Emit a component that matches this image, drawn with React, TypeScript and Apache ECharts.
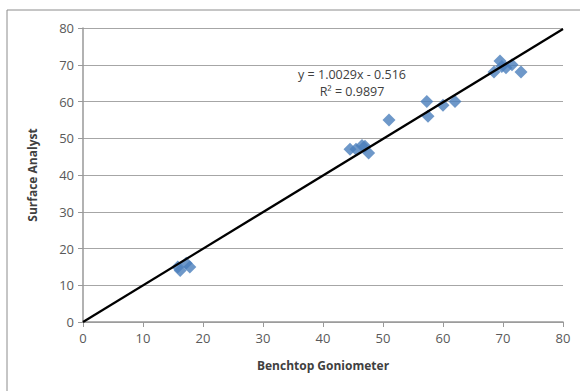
import React, { useEffect, useRef } from "react";
import * as echarts from "echarts";

const benchtop = [15.8, 16.2, 17.2, 17.8, 44.5, 45.5, 46.5, 47.0, 47.6, 51.0, 57.3, 57.5, 60.0, 62.0, 68.5, 69.5, 69.8, 70.5, 71.5, 73.0];
const surface = [15.0, 14.0, 16.0, 15.0, 47.0, 47.0, 48.0, 47.8, 46.0, 55.0, 60.0, 56.0, 59.0, 60.0, 68.0, 71.0, 69.5, 69.2, 70.0, 68.0];
const slope = 1.0029;
const intercept = -0.516;
const rSquared = 0.9897;
const trendX = [0, 80];
const axisTicks = [0, 10, 20, 30, 40, 50, 60, 70, 80];

export default function App() {
  const ref = useRef<HTMLDivElement>(null);
  useEffect(() => {
    if (!ref.current) return;
    const chart = echarts.init(ref.current, null, { renderer: "svg" });
    const pts = benchtop.map((x, i) => [x, surface[i]]);
    const trend = trendX.map((x) => [x, Math.max(0, slope * x + intercept)]);
    const font = "Open Sans, Noto Sans, sans-serif";
    chart.setOption({
      animation: false,
      backgroundColor: "#fff",
      grid: { left: 83, right: 17, top: 28, bottom: 69 },
      graphic: [
        {
          type: "rect",
          shape: { x: 7, y: 10, width: 600, height: 400 },
          style: { fill: "none", stroke: "#8c8c8c", lineWidth: 1 },
          silent: true,
          z: -10,
        },
        {
          type: "text",
          x: 352,
          y: 74,
          style: {
            text: `y = ${slope}x - ${Math.abs(intercept)}`,
            font: `12.5px ${font}`,
            fill: "#404040",
            textAlign: "center",
            textVerticalAlign: "middle",
          },
          z: 20,
        },
        {
          type: "text",
          x: 352,
          y: 91,
          style: {
            text: `R² = ${rSquared}`,
            font: `12.5px ${font}`,
            fill: "#404040",
            textAlign: "center",
            textVerticalAlign: "middle",
          },
          z: 20,
        },
      ],
      xAxis: {
        type: "value",
        min: axisTicks[0],
        max: axisTicks[axisTicks.length - 1],
        interval: 10,
        name: "Benchtop Goniometer",
        nameLocation: "middle",
        nameGap: 37,
        nameTextStyle: { fontFamily: font, fontWeight: "bold", fontSize: 12, color: "#404040" },
        axisLine: { show: true, lineStyle: { color: "#999", width: 1.5 } },
        axisTick: { show: true, length: 5, lineStyle: { color: "#999" } },
        axisLabel: { fontFamily: font, fontSize: 13, color: "#595959", margin: 9 },
        splitLine: { show: false },
      },
      yAxis: {
        type: "value",
        min: axisTicks[0],
        max: axisTicks[axisTicks.length - 1],
        interval: 10,
        name: "Surface Analyst",
        nameLocation: "middle",
        nameGap: 45,
        nameTextStyle: { fontFamily: font, fontWeight: "bold", fontSize: 12, color: "#404040" },
        axisLine: { show: true, lineStyle: { color: "#999", width: 1.5 } },
        axisTick: { show: true, length: 5, lineStyle: { color: "#999" } },
        axisLabel: { fontFamily: font, fontSize: 13, color: "#595959", margin: 9 },
        splitLine: { show: true, lineStyle: { color: "#a6a6a6", width: 1.2 } },
      },
      series: [
        {
          type: "scatter",
          data: pts,
          symbol: "diamond",
          symbolSize: 13,
          itemStyle: { color: "#4a7ebb" },
          z: 3,
        },
        {
          type: "line",
          data: trend,
          symbol: "none",
          lineStyle: { color: "#000", width: 2.2 },
          z: 4,
        },
      ],
    });
    return () => chart.dispose();
  }, []);
  return <div ref={ref} style={{ position: "fixed", left: 0, top: 0, width: 580, height: 391 }} />;
}
